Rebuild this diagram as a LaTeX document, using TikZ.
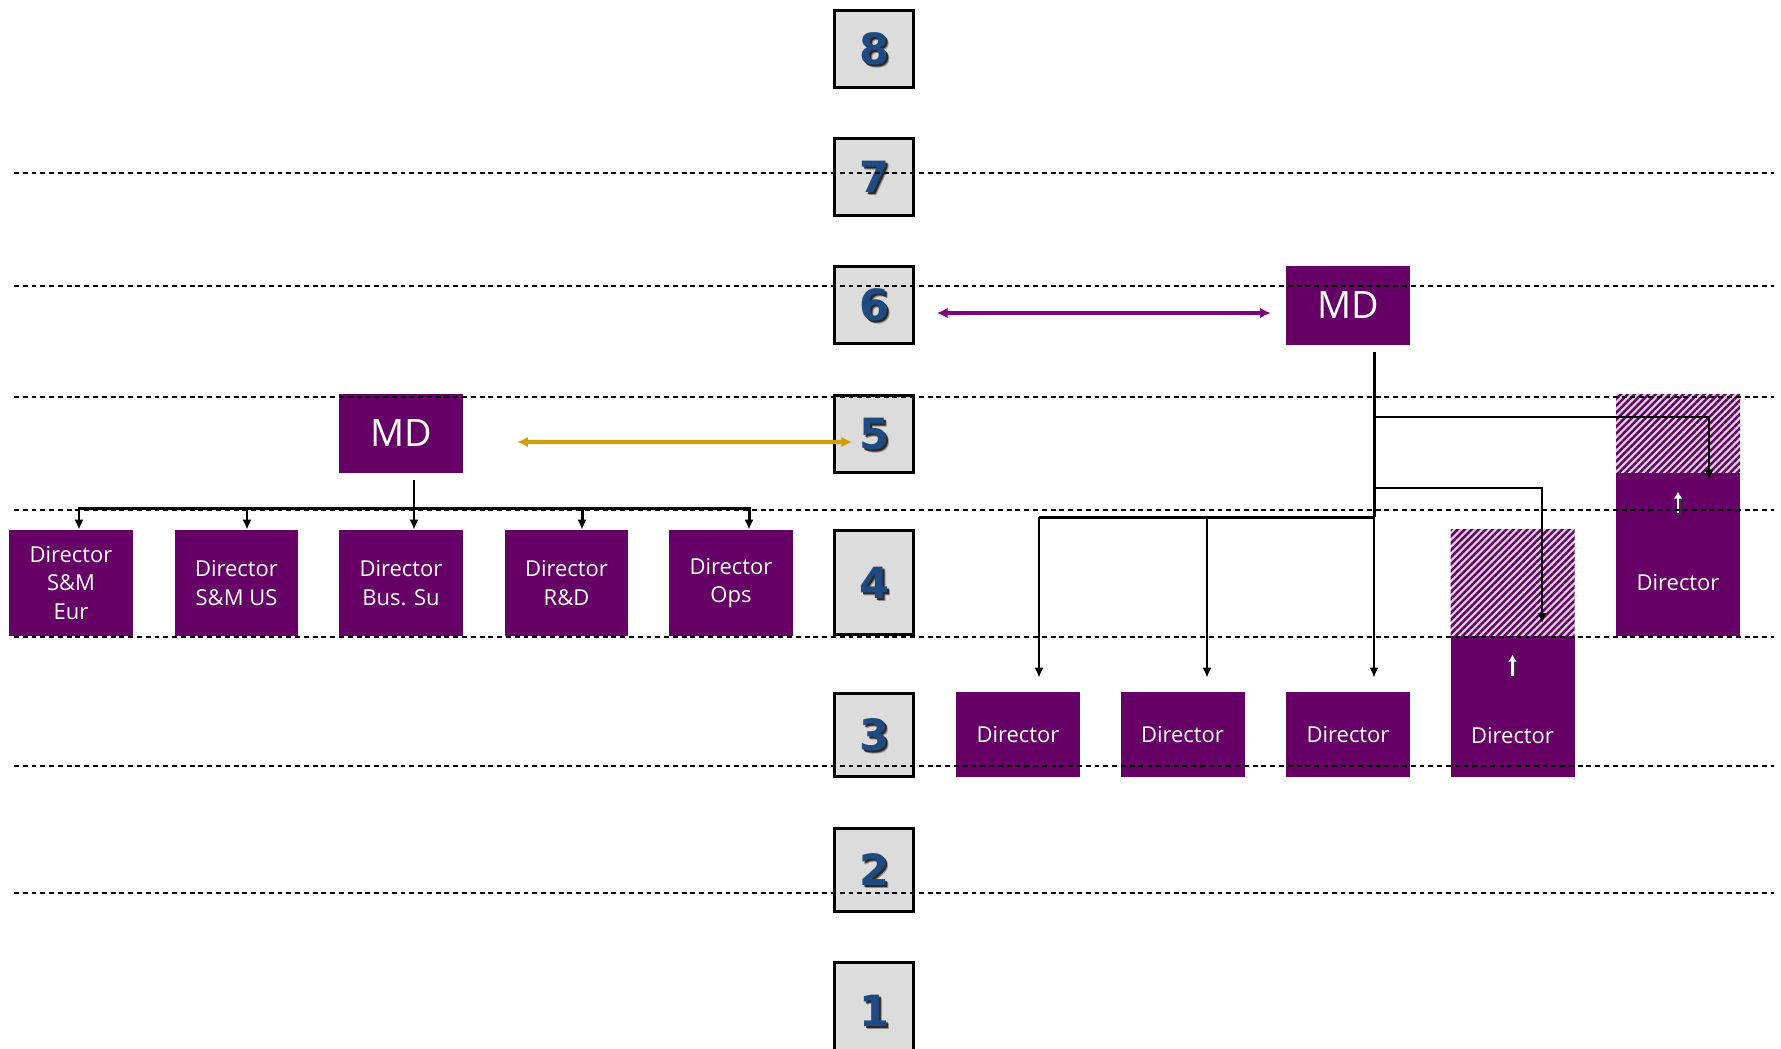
\documentclass[tikz,border=0pt]{standalone}
\usepackage{fontspec}
\setmainfont{Open Sans}
\newfontfamily\numfont{DejaVu Sans}
\usetikzlibrary{calc,arrows.meta,patterns.meta}

\definecolor{boxpurple}{RGB}{102,0,102}
\definecolor{linkpurple}{RGB}{128,0,128}
\definecolor{linkgold}{RGB}{208,158,0}
\definecolor{lvlgray}{RGB}{220,220,220}
\definecolor{lvlblue}{RGB}{31,75,130}
\definecolor{hatchbg}{RGB}{218,210,218}

\tikzset{
  lvl/.style={draw=black, line width=1.7pt, fill=lvlgray, minimum width=1.58cm, inner sep=0pt},
  digit/.style={font=\numfont\bfseries\fontsize{24.5}{24.5}\selectfont, text=lvlblue, inner sep=0pt},
  role/.style={fill=boxpurple, text=white, minimum width=2.48cm, inner sep=0pt, align=center,
    font=\fontsize{12.5}{16.4}\selectfont},
  roletext/.style={text=white, inner sep=0pt, font=\fontsize{12.5}{16.4}\selectfont},
  big/.style={font=\fontsize{21.5}{24}\selectfont},
  hatch/.style={minimum width=2.48cm, inner sep=0pt, preaction={fill=hatchbg},
    pattern={Lines[angle=45,distance=2.8pt,line width=1.4pt]}, pattern color=boxpurple},
  link/.style={line width=1.1pt, -{Latex[length=5.7pt,width=5.2pt]}},
  bar/.style={line width=1.7pt},
  grade/.style={line width=0.8pt, dash pattern=on 2.8pt off 2.2pt}
}

\begin{document}
\begin{tikzpicture}[x=0.02cm, y=-0.02cm]
  \useasboundingbox (0,0) rectangle (1781,1048);
  \fill[white] (0,0) rectangle (1781,1048);

  % Grade column:
  \foreach \n/\yc/\h in {8/49/1.54, 7/177/1.54, 6/305/1.54, 5/434/1.54, 4/582.5/2.08, 3/735/1.66, 2/870/1.66, 1/1011/1.94} {
    \node[lvl, minimum height=\h cm] (lvl\n) at (874,\yc) {};
    \node[digit, text=black, opacity=.35] (sf\n) at (877.5,\yc+3) {\n};
    \node[digit, text=black, opacity=.7] (sh\n) at (876.5,\yc+2) {\n};
    \node[digit] (num\n) at (874,\yc) {\n};
  }

  % Left: MD with five directors
  \node[role, big, minimum height=1.58cm] (mdL) at (401,433.5) {MD};
  \node[role, minimum height=2.12cm] (eur) at (71,583) {Director\\S\&M\\Eur};
  \node[role, minimum height=2.12cm] (us) at (236.5,583) {Director\\S\&M US};
  \node[role, minimum height=2.12cm] (bus) at (401,583) {Director\\Bus. Su};
  \node[role, minimum height=2.12cm] (rnd) at (566.5,583) {Director\\R\&D};
  \node[role, minimum height=2.12cm] (ops) at (731,583) {Director\\Ops};

  \draw[bar, {Latex[length=5.7pt,width=5.2pt]}-{Latex[length=5.7pt,width=5.2pt]}]
    ($(eur.north)+(8,0)$) -- ++(0,-21) -| ($(ops.north)+(18,0)$);
  \draw[bar, -{Latex[length=5.7pt,width=5.2pt]}] ($(mdL.south)+(13,7)$) -- ($(bus.north)+(13,0)$);
  \foreach \b/\dx in {us/10.5, rnd/15.5}
    \draw[bar, -{Latex[length=5.7pt,width=5.2pt]}] ($(\b.north)+(\dx,-21)$) -- ($(\b.north)+(\dx,0)$);

  % Right: MD one grade up
  \node[role, big, minimum height=1.58cm] (mdR) at (1348,305.5) {MD};
  \foreach \i/\x in {1/1018, 2/1182.5, 3/1348}
    \node[role, minimum height=1.7cm] (dir\i) at (\x,734.5) {Director};

  \node[hatch, minimum height=2.14cm] (up4) at (1512.5,582.5) {};
  \node[role, minimum height=2.82cm] (dir4) at (1512.5,706.5) {};
  \node[roletext] (lab4) at (1512.5,736) {Director};
  \node[hatch, minimum height=1.58cm] (up5) at (1678,433.5) {};
  \node[role, minimum height=3.26cm] (dir5) at (1678,554.5) {};
  \node[roletext] (lab5) at (1678,583) {Director};

  % small raise arrows
  \foreach \b in {dir4, dir5} {
    \draw[line width=1.6pt, black!80, -{Latex[length=4pt,width=5pt]}] ($(\b.north)+(2,42)$) -- ($(\b.north)+(2,21)$);
    \draw[line width=1.6pt, white, -{Latex[length=4pt,width=5pt]}] ($(\b.north)+(0,40)$) -- ($(\b.north)+(0,19)$);
  }

  \coordinate (a1) at ($(dir1.north)+(21,-14)$);
  \coordinate (a2) at ($(dir2.north)+(24.5,-14)$);
  \draw[bar] ($(mdR.south)+(26,7)$) -- ++(0,165) coordinate (hub);
  \draw[link] (hub) -- ($(dir3.north)+(26,-14)$);
  \draw[bar] (hub) -- (hub -| a1);
  \draw[link] (hub -| a1) -- (a1);
  \draw[link] (hub -| a2) -- (a2);
  \draw[link] ($(mdR.south)+(26,72)$) -| ($(dir5.north)+(31,7)$);
  \draw[link] ($(mdR.south)+(26,143)$) -| ($(up4.south)+(29.5,-14)$);

  % Matching grades
  \draw[line width=2.4pt, linkgold, {Latex[length=6pt,width=6pt]}-{Latex[length=6pt,width=6pt]}]
    ($(mdL.east)+(54,8.5)$) -- ($(lvl5.west)+(19,8)$);
  \draw[line width=2.2pt, linkpurple, {Latex[length=6pt,width=6pt]}-{Latex[length=6pt,width=6pt]}]
    ($(lvl6.east)+(22,8)$) -- ($(mdR.west)+(-15,7.5)$);

  % Grade boundaries
  \foreach \y in {173,286,397,510,637,766,893}
    \draw[grade] (14,\y) -- (1774,\y);
\end{tikzpicture}
\end{document}
